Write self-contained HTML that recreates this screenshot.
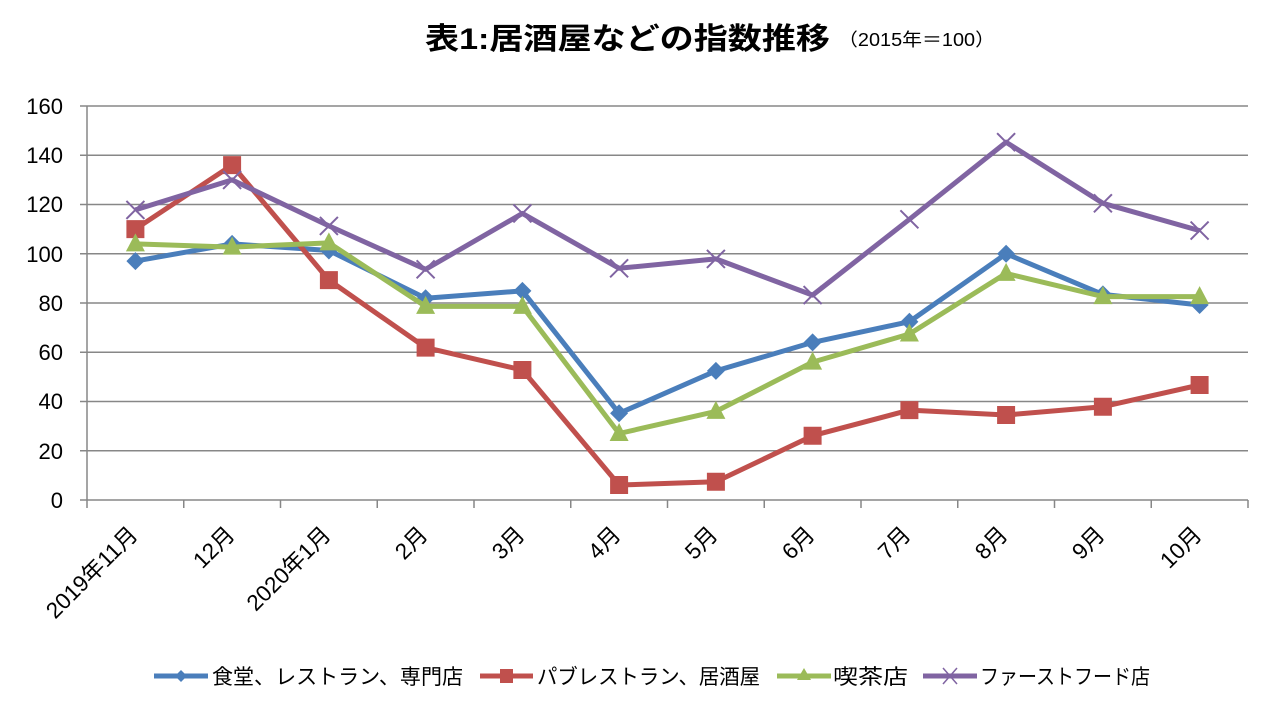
<!DOCTYPE html>
<html><head><meta charset="utf-8"><style>
html,body{margin:0;padding:0;background:#fff;}
svg{display:block;}
text{font-family:"Liberation Sans","Noto Sans CJK JP",sans-serif;fill:#000;}
</style></head><body>
<svg width="1280" height="720" viewBox="0 0 1280 720" xmlns="http://www.w3.org/2000/svg">
<rect width="1280" height="720" fill="#fff"/>
<!-- title -->
<text x="425" y="49" font-size="30" font-weight="bold" textLength="405" lengthAdjust="spacingAndGlyphs">表1:居酒屋などの指数推移</text>
<text x="838" y="46" font-size="18" textLength="157" lengthAdjust="spacingAndGlyphs">（2015年＝100）</text>
<!-- gridlines -->
<g stroke="#878787" stroke-width="1.5">
<line x1="80" y1="106" x2="1248" y2="106"/>
<line x1="80" y1="155.25" x2="1248" y2="155.25"/>
<line x1="80" y1="204.5" x2="1248" y2="204.5"/>
<line x1="80" y1="253.75" x2="1248" y2="253.75"/>
<line x1="80" y1="303" x2="1248" y2="303"/>
<line x1="80" y1="352.25" x2="1248" y2="352.25"/>
<line x1="80" y1="401.5" x2="1248" y2="401.5"/>
<line x1="80" y1="450.75" x2="1248" y2="450.75"/>
<line x1="80" y1="500" x2="1248" y2="500"/>
<line x1="87" y1="106" x2="87" y2="508"/>
<line x1="183.75" y1="500" x2="183.75" y2="508"/>
<line x1="280.5" y1="500" x2="280.5" y2="508"/>
<line x1="377.25" y1="500" x2="377.25" y2="508"/>
<line x1="474" y1="500" x2="474" y2="508"/>
<line x1="570.75" y1="500" x2="570.75" y2="508"/>
<line x1="667.5" y1="500" x2="667.5" y2="508"/>
<line x1="764.25" y1="500" x2="764.25" y2="508"/>
<line x1="861" y1="500" x2="861" y2="508"/>
<line x1="957.75" y1="500" x2="957.75" y2="508"/>
<line x1="1054.5" y1="500" x2="1054.5" y2="508"/>
<line x1="1151.25" y1="500" x2="1151.25" y2="508"/>
<line x1="1248" y1="500" x2="1248" y2="508"/>
</g>
<!-- y labels -->
<g font-size="22" text-anchor="end">
<text x="63" y="114">160</text>
<text x="63" y="163">140</text>
<text x="63" y="212">120</text>
<text x="63" y="262">100</text>
<text x="63" y="311">80</text>
<text x="63" y="360">60</text>
<text x="63" y="409">40</text>
<text x="63" y="459">20</text>
<text x="63" y="508">0</text>
</g>
<!-- x labels -->
<g font-size="22.5" text-anchor="end">
<text transform="translate(139,536) rotate(-45)">2019年11月</text>
<text transform="translate(236,536) rotate(-45)">12月</text>
<text transform="translate(332,536) rotate(-45)">2020年1月</text>
<text transform="translate(429,536) rotate(-45)">2月</text>
<text transform="translate(526,536) rotate(-45)">3月</text>
<text transform="translate(622,536) rotate(-45)">4月</text>
<text transform="translate(719,536) rotate(-45)">5月</text>
<text transform="translate(816,536) rotate(-45)">6月</text>
<text transform="translate(912,536) rotate(-45)">7月</text>
<text transform="translate(1009,536) rotate(-45)">8月</text>
<text transform="translate(1106,536) rotate(-45)">9月</text>
<text transform="translate(1203,536) rotate(-45)">10月</text>
</g>
<defs>
<path id="dia" d="M0,-9 L9,0 L0,9 L-9,0 Z"/>
<path id="sq" d="M-9,-9 H9 V9 H-9 Z"/>
<path id="tri" d="M0,-10.5 L9.5,7.5 L-9.5,7.5 Z"/>
<path id="xx" d="M-9,-9 L9,9 M-9,9 L9,-9"/>
</defs>
<!-- blue -->
<polyline fill="none" stroke="#4A7EBB" stroke-width="5" stroke-linejoin="round" points="135.4,261.1 232.1,243.9 328.9,250.5 425.6,298.3 522.4,290.9 619.1,413.3 715.9,370.9 812.6,342.4 909.4,321.7 1006.1,253.75 1102.9,294.4 1199.6,305"/>
<g fill="#4A7EBB">
<use href="#dia" x="135.4" y="261.1"/><use href="#dia" x="232.1" y="243.9"/><use href="#dia" x="328.9" y="250.5"/><use href="#dia" x="425.6" y="298.3"/><use href="#dia" x="522.4" y="290.9"/><use href="#dia" x="619.1" y="413.3"/><use href="#dia" x="715.9" y="370.9"/><use href="#dia" x="812.6" y="342.4"/><use href="#dia" x="909.4" y="321.7"/><use href="#dia" x="1006.1" y="253.75"/><use href="#dia" x="1102.9" y="294.4"/><use href="#dia" x="1199.6" y="305"/>
</g>
<!-- red -->
<polyline fill="none" stroke="#C0504D" stroke-width="5" stroke-linejoin="round" points="135.4,229.1 232.1,165.1 328.9,280.1 425.6,347.6 522.4,370 619.1,485 715.9,481.8 812.6,435.7 909.4,410.1 1006.1,415 1102.9,406.7 1199.6,385"/>
<g fill="#C0504D">
<use href="#sq" x="135.4" y="229.1"/><use href="#sq" x="232.1" y="165.1"/><use href="#sq" x="328.9" y="280.1"/><use href="#sq" x="425.6" y="347.6"/><use href="#sq" x="522.4" y="370"/><use href="#sq" x="619.1" y="485"/><use href="#sq" x="715.9" y="481.8"/><use href="#sq" x="812.6" y="435.7"/><use href="#sq" x="909.4" y="410.1"/><use href="#sq" x="1006.1" y="415"/><use href="#sq" x="1102.9" y="406.7"/><use href="#sq" x="1199.6" y="385"/>
</g>
<!-- green -->
<polyline fill="none" stroke="#9BBB59" stroke-width="5" stroke-linejoin="round" points="135.4,243.9 232.1,247.1 328.9,242.9 425.6,306.4 522.4,306.4 619.1,433.5 715.9,411.4 812.6,362.1 909.4,334 1006.1,273.4 1102.9,296.6 1199.6,296.6"/>
<g fill="#9BBB59">
<use href="#tri" x="135.4" y="243.9"/><use href="#tri" x="232.1" y="247.1"/><use href="#tri" x="328.9" y="242.9"/><use href="#tri" x="425.6" y="306.4"/><use href="#tri" x="522.4" y="306.4"/><use href="#tri" x="619.1" y="433.5"/><use href="#tri" x="715.9" y="411.4"/><use href="#tri" x="812.6" y="362.1"/><use href="#tri" x="909.4" y="334"/><use href="#tri" x="1006.1" y="273.4"/><use href="#tri" x="1102.9" y="296.6"/><use href="#tri" x="1199.6" y="296.6"/>
</g>
<!-- purple -->
<polyline fill="none" stroke="#8064A2" stroke-width="5" stroke-linejoin="round" points="135.4,209.9 232.1,179.9 328.9,225.9 425.6,269.3 522.4,213.4 619.1,268.3 715.9,258.9 812.6,295.1 909.4,219.3 1006.1,142.2 1102.9,203.3 1199.6,230.6"/>
<g fill="none" stroke="#8064A2" stroke-width="2">
<use href="#xx" x="135.4" y="209.9"/><use href="#xx" x="232.1" y="179.9"/><use href="#xx" x="328.9" y="225.9"/><use href="#xx" x="425.6" y="269.3"/><use href="#xx" x="522.4" y="213.4"/><use href="#xx" x="619.1" y="268.3"/><use href="#xx" x="715.9" y="258.9"/><use href="#xx" x="812.6" y="295.1"/><use href="#xx" x="909.4" y="219.3"/><use href="#xx" x="1006.1" y="142.2"/><use href="#xx" x="1102.9" y="203.3"/><use href="#xx" x="1199.6" y="230.6"/>
</g>
<!-- legend -->
<line x1="154" y1="676" x2="208" y2="676" stroke="#4A7EBB" stroke-width="5"/>
<path d="M181,670 L187,676 L181,682 L175,676 Z" fill="#4A7EBB"/>
<text x="212" y="684" font-size="21" textLength="251" lengthAdjust="spacingAndGlyphs">食堂、レストラン、専門店</text>
<line x1="480" y1="676" x2="533" y2="676" stroke="#C0504D" stroke-width="5"/>
<rect x="500" y="669" width="13" height="14" fill="#C0504D"/>
<text x="537" y="684" font-size="21" textLength="223" lengthAdjust="spacingAndGlyphs">パブレストラン、居酒屋</text>
<line x1="777" y1="676" x2="831" y2="676" stroke="#9BBB59" stroke-width="5"/>
<path d="M804,668 L811,680 L797,680 Z" fill="#9BBB59"/>
<text x="833" y="684" font-size="21" textLength="75" lengthAdjust="spacingAndGlyphs">喫茶店</text>
<line x1="923" y1="676" x2="977" y2="676" stroke="#8064A2" stroke-width="5"/>
<path d="M943,668 L957,684 M943,684 L957,668" stroke="#8064A2" stroke-width="1.5"/>
<text x="980" y="684" font-size="21" textLength="170" lengthAdjust="spacingAndGlyphs">ファーストフード店</text>
</svg>
</body></html>
